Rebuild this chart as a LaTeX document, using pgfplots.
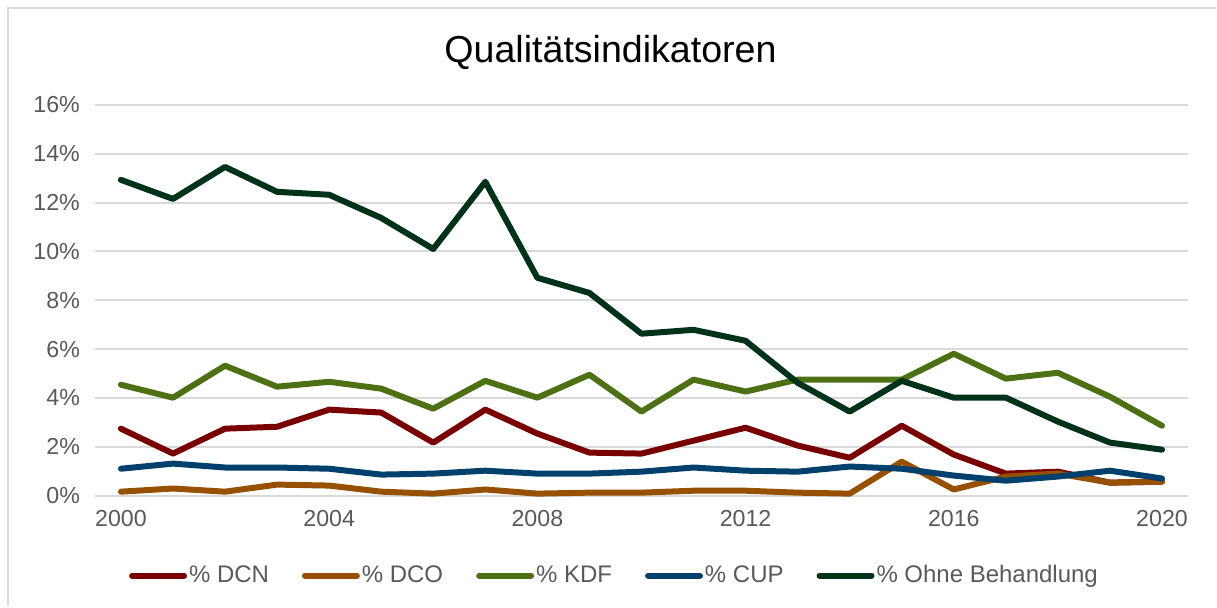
\documentclass[border=0pt]{standalone}
\usepackage{fontspec}
\setmainfont{Liberation Sans}
\usepackage{pgfplots}
\usepackage{pgfplotstable}
\pgfplotsset{compat=1.18}

\definecolor{cDCN}{RGB}{120,0,0}
\definecolor{cDCO}{RGB}{151,80,0}
\definecolor{cKDF}{RGB}{78,112,20}
\definecolor{cCUP}{RGB}{0,64,108}
\definecolor{cOhne}{RGB}{0,50,25}
\definecolor{gridgray}{RGB}{217,217,217}
\definecolor{ticktext}{RGB}{89,89,89}

\pgfplotstableread{
year DCN DCO KDF CUP Ohne
2000 2.74 0.16 4.54 1.10 12.93
2001 1.72 0.29 4.01 1.31 12.15
2002 2.74 0.16 5.32 1.15 13.46
2003 2.82 0.45 4.46 1.15 12.44
2004 3.52 0.41 4.66 1.10 12.32
2005 3.40 0.16 4.38 0.86 11.37
2006 2.17 0.08 3.56 0.90 10.10
2007 3.52 0.25 4.70 1.02 12.85
2008 2.54 0.08 4.01 0.90 8.92
2009 1.76 0.12 4.95 0.90 8.30
2010 1.72 0.12 3.44 0.98 6.63
2011 2.25 0.20 4.75 1.15 6.79
2012 2.78 0.20 4.26 1.02 6.34
2013 2.05 0.12 4.75 0.98 4.62
2014 1.55 0.08 4.75 1.19 3.44
2015 2.86 1.39 4.75 1.10 4.70
2016 1.68 0.25 5.81 0.82 4.01
2017 0.90 0.78 4.79 0.61 4.01
2018 0.98 0.90 5.03 0.78 3.03
2019 0.53 0.53 4.05 1.02 2.17
2020 0.57 0.57 2.86 0.70 1.88
}\datatable

\begin{document}
\begin{tikzpicture}
\begin{axis}[
  name=ax,
  scale only axis,
  width=547pt, height=195.5pt,
  xmin=1999.5, xmax=2020.5,
  ymin=0, ymax=16,
  xtick={2000,2004,...,2020},
  ytick={0,2,...,16},
  xticklabel={\pgfmathprintnumber[1000 sep={}]{\tick}},
  yticklabel={\pgfmathprintnumber{\tick}\%},
  /pgf/number format/assume math mode=true,
  tick label style={font=\fontsize{11.6}{13}\selectfont, text=ticktext},
  xticklabel style={yshift=-4pt},
  yticklabel style={xshift=-4pt},
  major tick length=0pt,
  axis line style={draw=none},
  ymajorgrids,
  grid style={gridgray, line width=1pt},
  clip=false,
  legend columns=5,
  legend style={at={(0.4753,-0.2046)}, anchor=center, draw=none, fill=none,
    font=\fontsize{12}{13}\selectfont, text=ticktext,
    /tikz/every even column/.append style={column sep=15.5pt},
    nodes={inner sep=1pt}},
  legend image code/.code={\draw[line width=3pt, line cap=round] (0pt,0pt) -- (26pt,0pt);},
  every axis plot/.append style={line width=3pt, line join=round, line cap=round},
]
\addplot[cDCN] table[x=year, y=DCN] {\datatable};
\addlegendentry{\% DCN}
\addplot[cDCO] table[x=year, y=DCO] {\datatable};
\addlegendentry{\% DCO}
\addplot[cKDF] table[x=year, y=KDF] {\datatable};
\addlegendentry{\% KDF}
\addplot[cCUP] table[x=year, y=CUP] {\datatable};
\addlegendentry{\% CUP}
\addplot[cOhne] table[x=year, y=Ohne] {\datatable};
\addlegendentry{\% Ohne Behandlung}
\end{axis}
\begin{scope}[shift={(ax.south west)}]
  \path (-47.5pt,-55.5pt) rectangle (561pt,248pt);
  \draw[gridgray, line width=1pt] (-43.5pt,-55.5pt) -- (-43.5pt,244pt) -- (561pt,244pt);
  \node[anchor=base, font=\fontsize{18.8}{22}\selectfont] at (258pt,216.5pt) {Qualitätsindikatoren};
\end{scope}
\end{tikzpicture}
\end{document}
